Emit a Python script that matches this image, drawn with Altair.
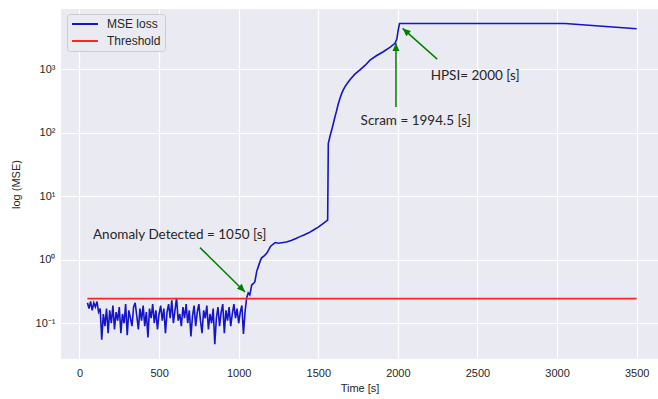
import altair as alt
import pandas as pd

# ---------------- data ----------------
noise_t = list(range(50, 1050, 10))
noise_v = [0.21, 0.17, 0.22, 0.16, 0.21, 0.18, 0.22, 0.15, 0.17, 0.055,
           0.14, 0.09, 0.17, 0.07, 0.16, 0.10, 0.19, 0.08, 0.15, 0.11,
           0.18, 0.07, 0.14, 0.10, 0.20, 0.065, 0.16, 0.12, 0.09, 0.18,
           0.21, 0.13, 0.08, 0.17, 0.11, 0.19, 0.09, 0.15, 0.06, 0.17,
           0.12, 0.20, 0.10, 0.16, 0.08, 0.14, 0.19, 0.11, 0.17, 0.07,
           0.15, 0.20, 0.12, 0.23, 0.10, 0.16, 0.25, 0.11, 0.14, 0.09,
           0.18, 0.12, 0.20, 0.10, 0.16, 0.062, 0.13, 0.19, 0.09, 0.15,
           0.20, 0.11, 0.07, 0.16, 0.12, 0.19, 0.08, 0.14, 0.10, 0.17,
           0.047, 0.12, 0.18, 0.09, 0.15, 0.20, 0.07, 0.16, 0.11, 0.18,
           0.09, 0.14, 0.20, 0.12, 0.17, 0.10, 0.15, 0.19, 0.068, 0.15]

rise_t = [1050, 1060, 1070, 1082, 1092, 1102, 1113, 1125, 1135, 1144,
          1160, 1176, 1190, 1200, 1215, 1230, 1250, 1270, 1300, 1330,
          1360, 1385, 1410, 1440, 1470, 1500, 1530, 1559, 1563, 1573,
          1590, 1603, 1615, 1625, 1636, 1647, 1657, 1670, 1685, 1699,
          1730, 1762, 1795, 1825, 1865, 1908, 1950, 1982, 1994, 2000,
          2010, 2500, 3000, 3050, 3200, 3350, 3500]
rise_v = [0.25, 0.30, 0.28, 0.40, 0.42, 0.45, 0.65, 0.80, 0.95, 1.07,
          1.15, 1.26, 1.45, 1.62, 1.75, 1.86, 1.82, 1.85, 1.90, 2.00,
          2.15, 2.31, 2.45, 2.65, 2.94, 3.25, 3.70, 4.20, 67, 86,
          125, 170, 220, 280, 345, 410, 470, 540, 610, 680,
          830, 970, 1150, 1380, 1620, 1870, 2200, 2540, 3000, 3800,
          5200, 5200, 5200, 5200, 4900, 4600, 4300]

thr_t = [50, 3500]
thr_v = [0.244, 0.244]

series_names = ["MSE loss", "Threshold"]
series_colors = ["#1414c8", "#ff2424"]

# annotations (data units)
ann_text = ["Anomaly Detected = 1050 [s]", "Scram = 1994.5 [s]", "HPSI= 2000 [s]"]
ann_tx = [85, 1766, 2206]
ann_ty = [2.45, 153, 776]
arr_x0 = [757, 1988, 2247]
arr_y0 = [1.55, 252, 1436]
arr_x1 = [1040, 1988, 2030]
arr_y1 = [0.311, 2570, 4365]
arr_ang = [134.5, 0, 311.6]

x_ticks = [0, 500, 1000, 1500, 2000, 2500, 3000, 3500]
y_ticks = [0.1, 1, 10, 100, 1000]
y_labels = ["10⁻¹", "10⁰", "10¹", "10²", "10³"]

# ---------------- tables ----------------
lines = pd.DataFrame({
    "t": noise_t + rise_t + thr_t,
    "v": noise_v + rise_v + thr_v,
    "series": ["MSE loss"] * (len(noise_t) + len(rise_t)) + ["Threshold"] * len(thr_t),
    "order": list(range(len(noise_t) + len(rise_t))) + list(range(len(thr_t))),
})
arrows = pd.DataFrame({"x0": arr_x0, "y0": arr_y0, "x1": arr_x1, "y1": arr_y1, "ang": arr_ang})
texts = pd.DataFrame({"x": ann_tx, "y": ann_ty, "label": ann_text})

XDOM = [-116, 3634]
YDOM = [0.0274, 8810]
labexpr = "[" + ",".join("'%s'" % s for s in y_labels) + "][round(log(datum.value)/LN10)+1]"


def X(field):
    return alt.X(field, type="quantitative", scale=alt.Scale(domain=XDOM, nice=False, zero=False),
                 axis=alt.Axis(values=x_ticks, title="Time [s]", format="d"))


def Y(field):
    return alt.Y(field, type="quantitative",
                 scale=alt.Scale(type="log", domain=YDOM, nice=False),
                 axis=alt.Axis(values=y_ticks, title="log (MSE)", labelExpr=labexpr))


line_layer = alt.Chart(lines).mark_line(strokeWidth=1.6, clip=True).encode(
    x=X("t"), y=Y("v"),
    color=alt.Color("series:N", scale=alt.Scale(domain=series_names, range=series_colors),
                    legend=alt.Legend(title=None, orient="none", legendX=6, legendY=5,
                                      symbolType="M-1,0L4.2,0", symbolSize=100,
                                      symbolStrokeWidth=2,
                                      labelFont="Liberation Sans", labelFontSize=12,
                                      labelColor="#262626", padding=4, rowPadding=5,
                                      fillColor="#EAEAF2", strokeColor="#cccccc",
                                      cornerRadius=3, labelOffset=24)),
    order="order:Q",
)

rule_layer = alt.Chart(arrows).mark_rule(color="#008000", strokeWidth=1.5).encode(
    x=X("x0"), y=Y("y0"), x2="x1", y2="y1")

head_layer = alt.Chart(arrows).mark_point(
    shape="M0,0L-0.7,1.6L0.7,1.6Z", filled=True, color="#008000", opacity=1, size=100
).encode(x=X("x1"), y=Y("y1"), angle=alt.Angle("ang:Q", scale=None))

text_layer = alt.Chart(texts).mark_text(
    align="left", baseline="middle", font="Lato", fontSize=13.5, color="#262626"
).encode(x=X("x"), y=Y("y"), text="label:N")

chart = alt.layer(line_layer, rule_layer, head_layer, text_layer).properties(
    width=597, height=350,
    autosize=alt.AutoSizeParams(type="none"),
    padding={"left": 61, "top": 9, "right": 0, "bottom": 40},
    background="white",
).configure_view(fill="#EAEAF2", stroke=None).configure_axis(
    grid=True, gridColor="white", gridWidth=1.2, domain=False, ticks=False,
    labelFont="Liberation Sans", labelFontSize=11, labelColor="#262626",
    titleFont="Liberation Sans", titleFontSize=11, titleFontWeight="normal", titleColor="#262626",
).configure_axisX(labelPadding=8, titlePadding=4).configure_axisY(labelPadding=6, titlePadding=14)

chart.save("out.html", embed_options={"renderer": "svg", "actions": False})
